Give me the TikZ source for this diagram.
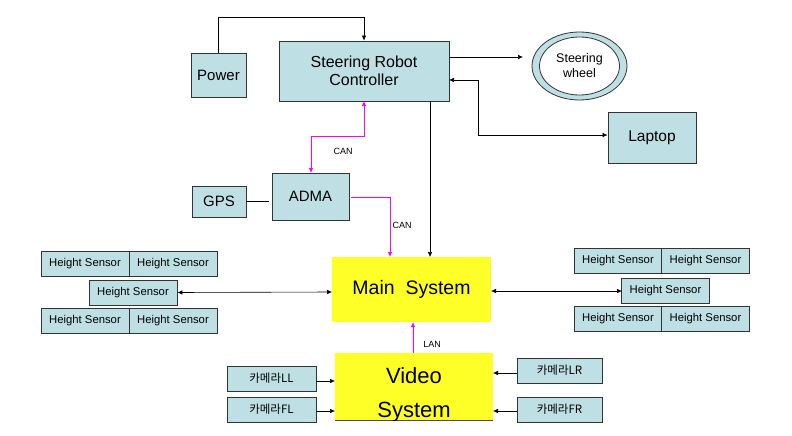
\documentclass[tikz,border=0pt]{standalone}
\usepackage{fontspec}
\setmainfont{Liberation Sans}
\newfontfamily\krfont{Noto Sans CJK KR}
\usetikzlibrary{shapes.geometric,arrows.meta}
\definecolor{lb}{RGB}{190,224,228}
\definecolor{yel}{RGB}{255,255,40}
\definecolor{mag}{RGB}{255,0,255}
\tikzset{
  bx/.style={draw=black!80, line width=0.8pt, fill=lb, inner sep=0pt, align=center},
  hs/.style={bx, minimum width=88pt, minimum height=25pt, font=\fontsize{11.3}{12}\selectfont},
  cam/.style={bx, minimum width=88pt, minimum height=25pt, font=\krfont\fontsize{11.5}{12}\selectfont},
  ar/.style={-{Latex[length=5pt,width=4.5pt]}, line width=0.6pt},
  dar/.style={{Latex[length=5pt,width=4.5pt]}-{Latex[length=5pt,width=4.5pt]}, line width=0.6pt},
  mar/.style={ar, draw=mag, line width=0.8pt},
  lbl/.style={font=\fontsize{9}{10}\selectfont, inner sep=0pt}
}
\begin{document}
\begin{tikzpicture}[x=1pt,y=-1pt]
\useasboundingbox (0,0) rectangle (792,436);
% top boxes
\node[bx, minimum width=55pt, minimum height=44pt, font=\fontsize{15}{16}\selectfont] (pow) at (218.5,75) {Power};
\node[bx, minimum width=170pt, minimum height=60pt, font=\fontsize{16}{18}\selectfont] (src) at (364,71) {Steering Robot\\Controller};
\node[bx, minimum width=88pt, minimum height=51pt, font=\fontsize{15.5}{16}\selectfont] (lap) at (652,137.5) {Laptop};
\node[ellipse, draw=black!80, line width=0.8pt, fill=lb, minimum width=95pt, minimum height=68pt] (wheel) at (579.5,66) {};
\node[ellipse, draw=black!80, line width=0.8pt, fill=white, minimum width=80pt, minimum height=58pt, align=center, inner sep=0pt, font=\fontsize{12.5}{15}\selectfont] (wheelin) at (wheel.center) {Steering\\wheel};
\node[bx, minimum width=77pt, minimum height=47pt, font=\fontsize{15}{17}\selectfont] (adma) at (310.5,196.5) {ADMA};
\node[bx, minimum width=54pt, minimum height=31pt, font=\fontsize{15}{16}\selectfont] (gps) at (219,201.5) {GPS};
% main system
\node[fill=yel, minimum width=159pt, minimum height=65pt, inner sep=0pt, font=\fontsize{19.5}{21}\selectfont] (main) at (411.5,289.5) {Main\ \ System};
% video system
\node[fill=yel, minimum width=158pt, minimum height=67pt, inner sep=0pt] (vid) at (414,386.5) {};
\draw[black!70, line width=0.5pt] (vid.south west) -- (vid.south east);
\begin{scope}
\clip (vid.south west) rectangle (vid.north east);
\node[font=\fontsize{22}{24}\selectfont, inner sep=0pt] (vt1) at (414,376) {Video};
\node[font=\fontsize{22}{24}\selectfont, inner sep=0pt] (vt2) at (414,412) {System};
\end{scope}
% left sensors
\node[hs] (l1) at (85,263.5) {Height Sensor};
\node[hs] (l2) at (173,263.5) {Height Sensor};
\node[hs] (l3) at (133,292.5) {Height Sensor};
\node[hs] (l4) at (85,321) {Height Sensor};
\node[hs] (l5) at (173,321) {Height Sensor};
% right sensors
\node[hs] (r1) at (618,261) {Height Sensor};
\node[hs] (r2) at (705.5,261) {Height Sensor};
\node[hs] (r3) at (665.5,290.5) {Height Sensor};
\node[hs] (r4) at (618,319) {Height Sensor};
\node[hs] (r5) at (705.5,319) {Height Sensor};
% cameras
\node[cam, minimum width=89pt] (cll) at (271.5,378.5) {카메라LL};
\node[cam, minimum width=89pt] (cfl) at (271.5,409.5) {카메라FL};
\node[cam, minimum width=85pt] (clr) at (559.5,370.5) {카메라LR};
\node[cam, minimum width=85pt] (cfr) at (559.5,409.5) {카메라FR};
% connectors
\coordinate (pk) at (218.5,17);
\coordinate (pk2) at (364,17);
\draw[ar] (pow.north) -- (pk) -- (pk2) -- (src.north);
\coordinate (sw1) at (449,57);
\coordinate (sw2) at (523,57);
\draw[ar] (sw1) -- (sw2);
\coordinate (la1) at (449,80);
\coordinate (la2) at (478,80);
\coordinate (la3) at (478,135);
\coordinate (la4) at (lap.west |- la3);
\draw[dar] (la1) -- (la2) -- (la3) -- (la4);
\coordinate (sm1) at (430,101);
\coordinate (sm2) at (430,257);
\draw[ar] (sm1) -- (sm2);
\coordinate (c1) at (364,101);
\coordinate (c2) at (364,136);
\coordinate (c3) at (311,136);
\coordinate (c4) at (311,173);
\draw[mar, {Latex[length=5pt,width=4.5pt]}-{Latex[length=5pt,width=4.5pt]}] (c1) -- (c2) -- (c3) -- (c4);
\node[lbl] (can1) at (343,151) {CAN};
\coordinate (d1) at (351,197);
\coordinate (d2) at (390,197);
\coordinate (d3) at (390,257);
\draw[mar] (d1) -- (d2) -- (d3);
\node[lbl] (can2) at (402,225) {CAN};
\coordinate (g1) at (gps.east);
\coordinate (g2) at (269,201.5);
\draw[line width=0.6pt] (g1) -- (g2);
\coordinate (ml) at (332,292);
\draw[dar] (l3.east) -- (ml);
\coordinate (mr) at (491,291);
\coordinate (rr) at (622,291);
\draw[dar] (mr) -- (rr);
\coordinate (v1) at (413,353);
\coordinate (v2) at (413,322);
\draw[mar] (v1) -- (v2);
\node[lbl] (lan) at (432,344) {LAN};
\coordinate (e1) at (335,381);
\coordinate (e2) at (335,411);
\coordinate (e3) at (493,373);
\coordinate (e4) at (493,411);
\draw[ar] (cll.east |- e1) -- (e1);
\draw[ar] (cfl.east |- e2) -- (e2);
\draw[ar] (clr.west |- e3) -- (e3);
\draw[ar] (cfr.west |- e4) -- (e4);
\end{tikzpicture}
\end{document}
